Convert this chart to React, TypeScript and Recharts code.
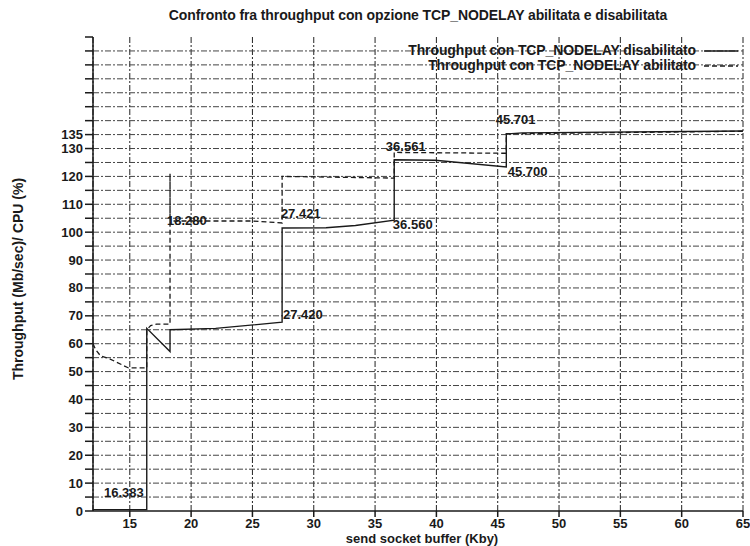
import {
  LineChart,
  Line,
  XAxis,
  YAxis,
  CartesianGrid,
  Legend,
  ReferenceDot,
  ReferenceLine,
  Label,
} from "recharts";

// TCP_NODELAY disabilitato (linea continua)
const disabledSeries = [
  { x: 12, y: 0.5 },
  { x: 16.383, y: 0.5 },
  { x: 16.384, y: 65.5 },
  { x: 18.28, y: 57.2 },
  { x: 18.281, y: 65 },
  { x: 22, y: 65.5 },
  { x: 27.42, y: 67.7 },
  { x: 27.421, y: 101.5 },
  { x: 31, y: 101.6 },
  { x: 33.4, y: 102.4 },
  { x: 36.56, y: 104.3 },
  { x: 36.561, y: 126 },
  { x: 39.9, y: 125.8 },
  { x: 45.7, y: 123.4 },
  { x: 45.701, y: 135.2 },
  { x: 47, y: 135.6 },
  { x: 65, y: 136.3 },
];

// TCP_NODELAY abilitato (linea tratteggiata)
const enabledSeries = [
  { x: 12, y: 60 },
  { x: 12.2, y: 58 },
  { x: 12.6, y: 55.7 },
  { x: 13.4, y: 54.5 },
  { x: 14.9, y: 51.3 },
  { x: 16.383, y: 51.3 },
  { x: 16.384, y: 65 },
  { x: 16.7, y: 66.5 },
  { x: 17.2, y: 67 },
  { x: 18.28, y: 67 },
  { x: 18.281, y: 121 },
  { x: 18.282, y: 104 },
  { x: 25, y: 104 },
  { x: 27.42, y: 103.3 },
  { x: 27.421, y: 120 },
  { x: 36.56, y: 119.4 },
  { x: 36.561, y: 128.6 },
  { x: 45.7, y: 128.3 },
  { x: 45.701, y: 135.3 },
  { x: 65, y: 136.2 },
];

// annotazioni: testo e punto (inizio testo, centro verticale)
const annotations = [
  { text: "16.383", x: 12.9, y: 6.5 },
  { text: "18.280", x: 18.03, y: 104.3 },
  { text: "27.421", x: 27.32, y: 106.8 },
  { text: "27.420", x: 27.49, y: 70.5 },
  { text: "36.561", x: 35.88, y: 130.6 },
  { text: "36.560", x: 36.45, y: 102.9 },
  { text: "45.701", x: 44.84, y: 140.6 },
  { text: "45.700", x: 45.82, y: 121.9 },
];

const xTicks = [15, 20, 25, 30, 35, 40, 45, 50, 55, 60, 65];
const yTicks = Array.from({ length: 35 }, (_, i) => i * 5);
const yLabeled = [0, 10, 20, 30, 40, 50, 60, 70, 80, 90, 100, 110, 120, 130, 135];
const yGrid = yTicks.filter((v) => v > 0 && v < 170);

const legendItems = [
  { name: "Throughput con TCP_NODELAY disabilitato", dash: undefined },
  { name: "Throughput con TCP_NODELAY abilitato", dash: "5 3" },
];

const FONT = "'Liberation Sans', Arial, sans-serif";
const INK = "#1a1a1a";
const GRID = "#444";

function YTick({ x, y, payload }: any) {
  if (!yLabeled.includes(payload.value)) return null;
  return (
    <text x={x} y={y} dy="0.35em" textAnchor="end" fontSize={13} fontWeight={700} fill={INK} fontFamily={FONT}>
      {payload.value}
    </text>
  );
}

function XTick({ x, y, payload }: any) {
  return (
    <text x={x} y={y + 4} dy="0.35em" textAnchor="middle" fontSize={13} fontWeight={700} fill={INK} fontFamily={FONT}>
      {payload.value}
    </text>
  );
}

function LegendBox() {
  return (
    <div style={{ fontFamily: FONT, fontSize: 14, fontWeight: 700, color: INK, textAlign: "right" }}>
      {legendItems.map((item) => (
        <div key={item.name} style={{ display: "flex", justifyContent: "flex-end", alignItems: "center", height: 15 }}>
          <span style={{ letterSpacing: -0.1, lineHeight: "15px" }}>{item.name}</span>
          <svg width={40} height={10} style={{ marginLeft: 4 }}>
            <line x1={4} y1={5} x2={38} y2={5} stroke={INK} strokeWidth={1.3} strokeDasharray={item.dash} />
          </svg>
        </div>
      ))}
    </div>
  );
}

export default function App() {
  return (
    <div style={{ position: "relative", width: 750, height: 546, background: "#fff" }}>
      <style>{"body{margin:0;overflow:hidden}"}</style>
      <div
        style={{
          position: "absolute",
          top: 7,
          left: 93,
          width: 650,
          textAlign: "center",
          fontFamily: FONT,
          fontSize: 14,
          fontWeight: 700,
          color: INK,
          letterSpacing: -0.1,
        }}
      >
        Confronto fra throughput con opzione TCP_NODELAY abilitata e disabilitata
      </div>
      <LineChart width={750} height={546} margin={{ top: 37, right: 7, bottom: 0, left: 0 }}>
        <CartesianGrid horizontal={false} stroke="#222" strokeWidth={1} strokeDasharray="6 2 2 2" />
        <XAxis
          type="number"
          dataKey="x"
          domain={[12, 65]}
          ticks={xTicks}
          interval={0}
          allowDataOverflow
          height={35}
          tick={<XTick />}
          tickSize={6}
          tickMargin={2}
          stroke={INK}
          strokeWidth={1.5}
        >
          <Label
            content={() => (
              <text x={422} y={538} dy="0.35em" textAnchor="middle" fontSize={13} fontWeight={700} fill={INK} fontFamily={FONT}>
                send socket buffer (Kby)
              </text>
            )}
          />
        </XAxis>
        <XAxis
          xAxisId="top"
          orientation="top"
          type="number"
          domain={[12, 65]}
          height={0}
          tick={false}
          tickLine={false}
          stroke={INK}
          strokeWidth={1.5}
        />
        <YAxis
          type="number"
          domain={[0, 170]}
          ticks={yTicks}
          interval={0}
          allowDataOverflow
          width={93}
          tick={<YTick />}
          tickSize={8}
          tickMargin={2}
          stroke={INK}
          strokeWidth={1.5}
        >
          <Label
            content={() => (
              <text transform="translate(18,279) rotate(-90)" textAnchor="middle" dy="0.35em" fontSize={14} fontWeight={700} fill={INK} fontFamily={FONT}>
                Throughput (Mb/sec)/ CPU (%)
              </text>
            )}
          />
        </YAxis>
        <YAxis
          yAxisId="right"
          orientation="right"
          type="number"
          domain={[0, 170]}
          width={0}
          tick={false}
          tickLine={false}
          stroke={INK}
          strokeWidth={1.5}
        />
        {yGrid.map((v) => (
          <ReferenceLine key={`h${v}`} y={v} stroke={GRID} strokeWidth={1} strokeDasharray="6 2 2 2" />
        ))}
        <Legend
          layout="vertical"
          align="center"
          verticalAlign="middle"
          wrapperStyle={{ left: 390, top: 43, width: 350 }}
          content={<LegendBox />}
        />
        <Line
          data={disabledSeries}
          dataKey="y"
          type="linear"
          stroke={INK}
          strokeWidth={1.4}
          dot={false}
          isAnimationActive={false}
        />
        <Line
          data={enabledSeries}
          dataKey="y"
          type="linear"
          stroke={INK}
          strokeWidth={1.3}
          strokeDasharray="5 3"
          dot={false}
          isAnimationActive={false}
        />
        {annotations.map((a) => (
          <ReferenceDot
            key={a.text}
            x={a.x}
            y={a.y}
            r={0}
            fill="none"
            stroke="none"
            label={(props: any) => {
              const vb = props.viewBox || {};
              const cx = vb.x + (vb.width || 0) / 2;
              const cy = vb.y + (vb.height || 0) / 2;
              return (
                <text x={cx} y={cy} dy="0.35em" textAnchor="start" fontSize={13} fontWeight={700} fill={INK} fontFamily={FONT}>
                  {a.text}
                </text>
              );
            }}
          />
        ))}
      </LineChart>
    </div>
  );
}
